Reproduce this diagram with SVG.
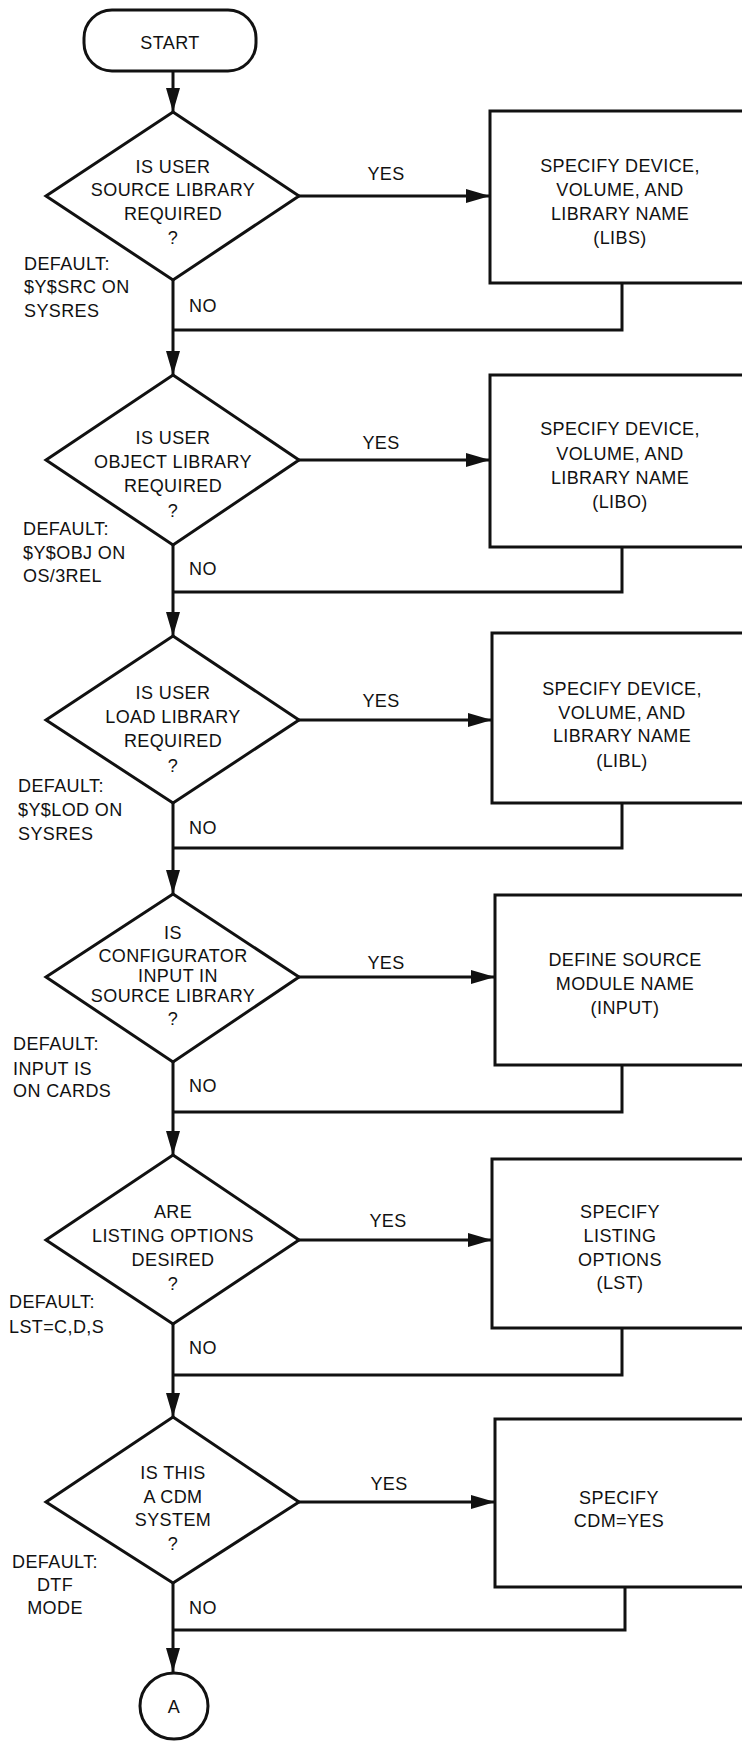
<svg xmlns="http://www.w3.org/2000/svg" width="742" height="1742" viewBox="0 0 742 1742">
  <style>
    .shape { fill: #fff; stroke: #111; stroke-width: 3; }
    .wire { fill: none; stroke: #111; stroke-width: 3; }
    text { font-family: "Liberation Sans", Arial, sans-serif; font-size: 18px; fill: #111; letter-spacing: 0.4px; }
    .c { text-anchor: middle; }
    .l { text-anchor: start; }
  </style>
  <defs>
    <marker id="arrow" markerUnits="userSpaceOnUse" markerWidth="24" markerHeight="14" refX="24" refY="7" orient="auto">
      <path d="M0,0 L24,7 L0,14 z" fill="#111"/>
    </marker>
  </defs>
  <rect width="742" height="1742" fill="#fff"/>

  <!-- connectors -->
  <g id="connectors">
    <path class="wire" d="M173,71 V112" marker-end="url(#arrow)"/>
    <!-- section 1 -->
    <path class="wire" d="M299,196 H490" marker-end="url(#arrow)"/>
    <path class="wire" d="M173,280 V375" marker-end="url(#arrow)"/>
    <path class="wire" d="M622,283 V330 H173"/>
    <!-- section 2 -->
    <path class="wire" d="M299,460 H490" marker-end="url(#arrow)"/>
    <path class="wire" d="M173,545 V636" marker-end="url(#arrow)"/>
    <path class="wire" d="M622,547 V592 H173"/>
    <!-- section 3 -->
    <path class="wire" d="M299,720 H492" marker-end="url(#arrow)"/>
    <path class="wire" d="M173,803 V894" marker-end="url(#arrow)"/>
    <path class="wire" d="M622,803 V848 H173"/>
    <!-- section 4 -->
    <path class="wire" d="M299,977 H495" marker-end="url(#arrow)"/>
    <path class="wire" d="M173,1062 V1155" marker-end="url(#arrow)"/>
    <path class="wire" d="M622,1065 V1112 H173"/>
    <!-- section 5 -->
    <path class="wire" d="M299,1240 H492" marker-end="url(#arrow)"/>
    <path class="wire" d="M173,1324 V1417" marker-end="url(#arrow)"/>
    <path class="wire" d="M622,1328 V1375 H173"/>
    <!-- section 6 -->
    <path class="wire" d="M299,1502 H495" marker-end="url(#arrow)"/>
    <path class="wire" d="M173,1583 V1672" marker-end="url(#arrow)"/>
    <path class="wire" d="M625,1587 V1630 H173"/>

    <!-- branch labels -->
    <text class="c" x="386" y="180">YES</text>
    <text class="c" x="381" y="449">YES</text>
    <text class="c" x="381" y="707">YES</text>
    <text class="c" x="386" y="969">YES</text>
    <text class="c" x="388" y="1227">YES</text>
    <text class="c" x="389" y="1490">YES</text>
    <text class="l" x="189" y="312">NO</text>
    <text class="l" x="189" y="575">NO</text>
    <text class="l" x="189" y="834">NO</text>
    <text class="l" x="189" y="1092">NO</text>
    <text class="l" x="189" y="1354">NO</text>
    <text class="l" x="189" y="1614">NO</text>
  </g>

  <!-- start terminator -->
  <g id="start">
    <rect class="shape" x="84" y="10" width="172" height="61" rx="28" ry="28"/>
    <text class="c" x="170" y="49">START</text>
  </g>

  <!-- decision 1 -->
  <g id="q-source-lib">
    <polygon class="shape" points="173,112 299,196 173,280 46,196"/>
    <text class="c" x="173" y="173">IS USER</text>
    <text class="c" x="173" y="196">SOURCE LIBRARY</text>
    <text class="c" x="173" y="220">REQUIRED</text>
    <text class="c" x="173" y="244">?</text>
  </g>
  <g id="default-1">
    <text class="l" x="24" y="270">DEFAULT:</text>
    <text class="l" x="24" y="293">$Y$SRC ON</text>
    <text class="l" x="24" y="317">SYSRES</text>
  </g>
  <g id="libs">
    <rect class="shape" x="490" y="111" width="260" height="172"/>
    <text class="c" x="620" y="172">SPECIFY DEVICE,</text>
    <text class="c" x="620" y="196">VOLUME, AND</text>
    <text class="c" x="620" y="220">LIBRARY NAME</text>
    <text class="c" x="620" y="244">(LIBS)</text>
  </g>

  <!-- decision 2 -->
  <g id="q-object-lib">
    <polygon class="shape" points="173,375 299,460 173,545 46,460"/>
    <text class="c" x="173" y="444">IS USER</text>
    <text class="c" x="173" y="468">OBJECT LIBRARY</text>
    <text class="c" x="173" y="492">REQUIRED</text>
    <text class="c" x="173" y="517">?</text>
  </g>
  <g id="default-2">
    <text class="l" x="23" y="535">DEFAULT:</text>
    <text class="l" x="23" y="559">$Y$OBJ ON</text>
    <text class="l" x="23" y="582">OS/3REL</text>
  </g>
  <g id="libo">
    <rect class="shape" x="490" y="375" width="260" height="172"/>
    <text class="c" x="620" y="435">SPECIFY DEVICE,</text>
    <text class="c" x="620" y="460">VOLUME, AND</text>
    <text class="c" x="620" y="484">LIBRARY NAME</text>
    <text class="c" x="620" y="508">(LIBO)</text>
  </g>

  <!-- decision 3 -->
  <g id="q-load-lib">
    <polygon class="shape" points="173,636 299,720 173,803 46,720"/>
    <text class="c" x="173" y="699">IS USER</text>
    <text class="c" x="173" y="723">LOAD LIBRARY</text>
    <text class="c" x="173" y="747">REQUIRED</text>
    <text class="c" x="173" y="772">?</text>
  </g>
  <g id="default-3">
    <text class="l" x="18" y="792">DEFAULT:</text>
    <text class="l" x="18" y="816">$Y$LOD ON</text>
    <text class="l" x="18" y="840">SYSRES</text>
  </g>
  <g id="libl">
    <rect class="shape" x="492" y="633" width="260" height="170"/>
    <text class="c" x="622" y="695">SPECIFY DEVICE,</text>
    <text class="c" x="622" y="719">VOLUME, AND</text>
    <text class="c" x="622" y="742">LIBRARY NAME</text>
    <text class="c" x="622" y="767">(LIBL)</text>
  </g>

  <!-- decision 4 -->
  <g id="q-config-input">
    <polygon class="shape" points="173,894 299,977 173,1062 46,977"/>
    <text class="c" x="173" y="939">IS</text>
    <text class="c" x="173" y="962">CONFIGURATOR</text>
    <text class="c" x="178" y="982">INPUT IN</text>
    <text class="c" x="173" y="1002">SOURCE LIBRARY</text>
    <text class="c" x="173" y="1025">?</text>
  </g>
  <g id="default-4">
    <text class="l" x="13" y="1050">DEFAULT:</text>
    <text class="l" x="13" y="1075">INPUT IS</text>
    <text class="l" x="13" y="1097">ON CARDS</text>
  </g>
  <g id="input">
    <rect class="shape" x="495" y="895" width="260" height="170"/>
    <text class="c" x="625" y="966">DEFINE SOURCE</text>
    <text class="c" x="625" y="990">MODULE NAME</text>
    <text class="c" x="625" y="1014">(INPUT)</text>
  </g>

  <!-- decision 5 -->
  <g id="q-listing">
    <polygon class="shape" points="173,1155 299,1240 173,1324 46,1240"/>
    <text class="c" x="173" y="1218">ARE</text>
    <text class="c" x="173" y="1242">LISTING OPTIONS</text>
    <text class="c" x="173" y="1266">DESIRED</text>
    <text class="c" x="173" y="1290">?</text>
  </g>
  <g id="default-5">
    <text class="l" x="9" y="1308">DEFAULT:</text>
    <text class="l" x="9" y="1333">LST=C,D,S</text>
  </g>
  <g id="lst">
    <rect class="shape" x="492" y="1159" width="260" height="169"/>
    <text class="c" x="620" y="1218">SPECIFY</text>
    <text class="c" x="620" y="1242">LISTING</text>
    <text class="c" x="620" y="1266">OPTIONS</text>
    <text class="c" x="620" y="1289">(LST)</text>
  </g>

  <!-- decision 6 -->
  <g id="q-cdm">
    <polygon class="shape" points="173,1417 299,1502 173,1583 46,1502"/>
    <text class="c" x="173" y="1479">IS THIS</text>
    <text class="c" x="173" y="1503">A CDM</text>
    <text class="c" x="173" y="1526">SYSTEM</text>
    <text class="c" x="173" y="1550">?</text>
  </g>
  <g id="default-6">
    <text class="c" x="55" y="1568">DEFAULT:</text>
    <text class="c" x="55" y="1591">DTF</text>
    <text class="c" x="55" y="1614">MODE</text>
  </g>
  <g id="cdm">
    <rect class="shape" x="495" y="1419" width="260" height="168"/>
    <text class="c" x="619" y="1504">SPECIFY</text>
    <text class="c" x="619" y="1527">CDM=YES</text>
  </g>

  <!-- off-page connector -->
  <g id="connector-a">
    <ellipse class="shape" cx="174" cy="1706" rx="34" ry="33"/>
    <text class="c" x="174" y="1713">A</text>
  </g>
</svg>
